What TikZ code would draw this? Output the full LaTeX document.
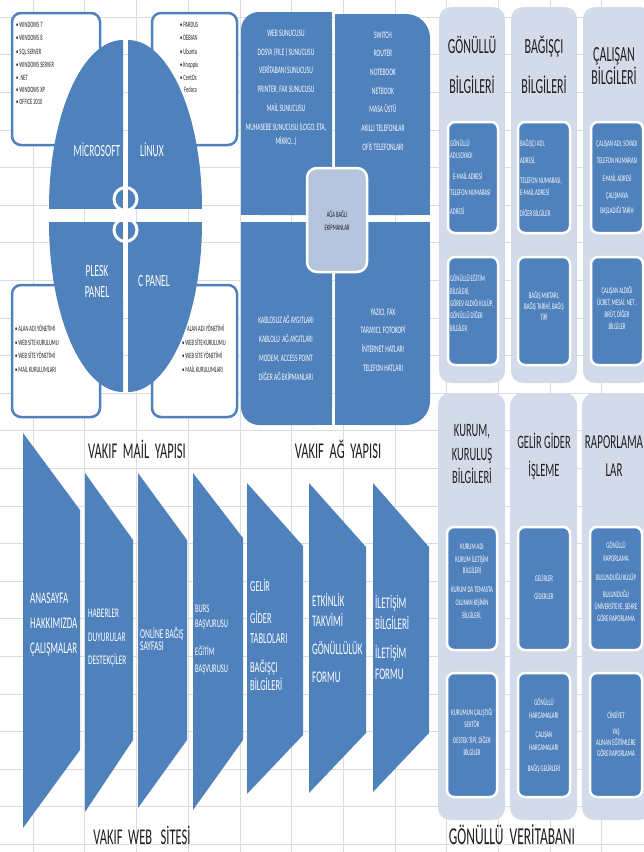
\documentclass[tikz,border=0pt]{standalone}
\usepackage{fontspec}
\setmainfont{Carlito}
\definecolor{blu}{HTML}{4F81BD}
\definecolor{lite}{HTML}{D3DBEA}
\definecolor{midb}{HTML}{B7C4DE}
\definecolor{gridc}{HTML}{DCDCDC}
\definecolor{ink}{HTML}{1F1F1F}
\newcommand\fz[2]{\fontsize{#1}{#2}\selectfont}
\tikzset{
 tx/.style={yscale=1.8, inner sep=0pt, align=center},
 wt/.style={tx, text=white},
 bt/.style={tx, text=ink},
 lt/.style={tx, text=ink, anchor=west, font=\fz{4.5}{5}},
 listbox/.style={fill=white, draw=blu, line width=2.5pt, rounded corners=9pt},
 inbox/.style={fill=blu, draw=white, line width=2.5pt, rounded corners=7pt},
 colbox/.style={fill=lite, rounded corners=12pt},
 chev/.style={fill=blu},
 ibt/.style={wt, font=\fz{4.8}{#1}},
}
\begin{document}
\begin{tikzpicture}[x=1pt,y=-1pt]
\useasboundingbox (0,0) rectangle (644,852);
\fill[white] (0,0) rectangle (644,852);
% spreadsheet grid
\foreach \k in {0,...,11} \draw[gridc, line width=0.6pt] ({33+51.7*\k},0) -- ({33+51.7*\k},852);
\foreach \k in {0,...,22} \draw[gridc, line width=0.6pt] (0,{17+37.6*\k}) -- (644,{17+37.6*\k});

% ---------- VAKIF MAIL YAPISI ----------
\draw[listbox] (12,13) rectangle (100,145);
\draw[listbox] (152,13) rectangle (237,145);
\draw[listbox] (12,285) rectangle (100,417);
\draw[listbox] (152,285) rectangle (237,417);

\begin{scope}\clip (40,30) rectangle (123,208); \fill[blu] (123,208) ellipse [x radius=74, y radius=168]; \end{scope}
\begin{scope}\clip (128,30) rectangle (215,208); \fill[blu] (128,208) ellipse [x radius=74, y radius=168]; \end{scope}
\begin{scope}\clip (40,222) rectangle (123,400); \fill[blu] (123,222) ellipse [x radius=74, y radius=170]; \end{scope}
\begin{scope}\clip (128,222) rectangle (215,400); \fill[blu] (128,222) ellipse [x radius=74, y radius=170]; \end{scope}
\draw[white, line width=3pt] (125.5,199) circle[radius=11.5];
\draw[white, line width=3pt] (125.5,230) circle[radius=11.5];
\fill[white] (123,150) rectangle (128,300);

\node[wt, font=\fz{9.5}{11.7}] (lms) at (97,150) {MİCROSOFT};
\node[wt, font=\fz{9.5}{11.7}] (llx) at (152,150) {LİNUX};
\node[wt, font=\fz{9.5}{11.7}] (lpl) at (97,281) {PLESK\\PANEL};
\node[wt, font=\fz{9.5}{11.7}] (lcp) at (154,281) {C PANEL};

\node[lt] (m1) at (16,25) {• WINDOWS 7};
\node[lt] (m2) at (16,38) {• WINDOWS 8};
\node[lt] (m3) at (16,52) {• SQL SERVER};
\node[lt] (m4) at (16,65) {• WINDOWS SERVER};
\node[lt] (m5) at (16,78) {• .NET};
\node[lt] (m6) at (16,90) {• WINDOWS XP};
\node[lt] (m7) at (16,102) {• OFFICE 2010};
\node[lt] (x1) at (180,25) {• PARDUS};
\node[lt] (x2) at (180,38) {• DEBIAN};
\node[lt] (x3) at (180,52) {• Ubuntu};
\node[lt] (x4) at (180,65) {• Knoppix};
\node[lt] (x5) at (180,78) {• CentOs};
\node[lt] (x6) at (184,90) {Fedora};
\node[lt] (p1) at (15,328) {• ALAN ADI YÖNETİMİ};
\node[lt] (p2) at (15,342) {• WEB SİTE KURULUMU};
\node[lt] (p3) at (15,355) {• WEB SİTE YÖNETİMİ};
\node[lt] (p4) at (15,369) {• MAİL KURULUMLARI};
\node[lt] (c1) at (187,328) {ALAN ADI YÖNETİMİ};
\node[lt] (c2) at (182,342) {• WEB SİTE KURULUMU};
\node[lt] (c3) at (182,355) {• WEB SİTE YÖNETİMİ};
\node[lt] (c4) at (182,369) {• MAİL KURULUMLARI};

% ---------- VAKIF AG YAPISI ----------
\fill[blu, rounded corners=18pt] (241,12) rectangle (332,215);
\fill[blu] (270,12) rectangle (332,215); \fill[blu] (241,60) rectangle (332,215);
\fill[blu, rounded corners=24pt] (335,14) rectangle (430,215);
\fill[blu] (335,14) rectangle (400,215); \fill[blu] (335,60) rectangle (430,215);
\fill[blu, rounded corners=18pt] (241,222) rectangle (332,425);
\fill[blu] (241,222) rectangle (332,380); \fill[blu] (270,222) rectangle (332,425);
\fill[blu, rounded corners=24pt] (335,222) rectangle (430,425);
\fill[blu] (335,222) rectangle (430,380); \fill[blu] (335,222) rectangle (400,425);
\node[fill=midb, draw=white, line width=2.5pt, rounded corners=10pt, minimum width=60pt, minimum height=104pt, inner sep=0pt] (hub) at (337,220) {};
\node[bt, font=\fz{4.6}{7.2}] (hubt) at (337,221) {AĞA BAĞLI\\EKİPMANLAR};

\node[wt, font=\fz{5.5}{10.4}] (ntl) at (286,88) {WEB SUNUCUSU\\DOSYA (FILE ) SUNUCUSU\\VERİTABANI SUNUCUSU\\PRINTER, FAX SUNUCUSU\\MAİL SUNUCUSU\\MUHASEBE SUNUCUSU (LOGO, ETA,\\[-2.4pt]MİKRO…)};
\node[wt, font=\fz{5.5}{10.4}] (ntr) at (383,91) {SWITCH\\ROUTER\\NOTEBOOK\\NETBOOK\\MASA ÜSTÜ\\AKILLI TELEFONLAR\\OFİS TELEFONLARI};
\node[wt, font=\fz{5.5}{10.4}] (nbl) at (286,348) {KABLOSUZ AĞ AYGITLARI\\KABLOLU\ \ AĞ AYGITLARI\\MODEM, ACCESS POINT\\DİĞER AĞ EKİPMANLARI};
\node[wt, font=\fz{5.5}{10.4}] (nbr) at (383,340) {YAZICI, FAX\\TARAYICI, FOTOKOPİ\\İNTERNET HATLARI\\TELEFON HATLARI};

% ---------- GONULLU VERITABANI ----------
\fill[colbox] (439,7) rectangle (505,383);
\fill[colbox] (511,7) rectangle (577,383);
\fill[colbox] (583,7) rectangle (652,383);
\fill[colbox] (438,393) rectangle (505,820);
\fill[colbox] (510,393) rectangle (577,820);
\fill[colbox] (582,393) rectangle (652,820);

\draw[inbox] (448,122) rectangle (498,233);
\draw[inbox] (518,122) rectangle (570,233);
\draw[inbox] (591,122) rectangle (643,233);
\draw[inbox] (448,257) rectangle (498,365);
\draw[inbox] (518,257) rectangle (570,365);
\draw[inbox] (591,257) rectangle (643,365);
\draw[inbox] (447,527) rectangle (497,650);
\draw[inbox] (518,527) rectangle (570,650);
\draw[inbox] (590,527) rectangle (642,650);
\draw[inbox] (447,673) rectangle (497,797);
\draw[inbox] (518,673) rectangle (570,797);
\draw[inbox] (590,673) rectangle (642,797);

\node[bt, font=\fz{12}{22}] (h1) at (472,65) {GÖNÜLLÜ\\BİLGİLERİ};
\node[bt, font=\fz{12}{22}] (h2) at (544,65) {BAĞIŞÇI\\BİLGİLERİ};
\node[bt, font=\fz{12}{12.5}] (h3) at (614,66) {ÇALIŞAN\\BİLGİLERİ};
\node[bt, font=\fz{10.5}{13}] (h4) at (472,454) {KURUM,\\KURULUŞ\\BİLGİLERİ};
\node[bt, font=\fz{10.5}{15.5}] (h5) at (544,456) {GELİR GİDER\\İŞLEME};
\node[bt, font=\fz{11}{15.5}] (h6) at (614,456) {RAPORLAMA\\LAR};

\node[ibt=6.7, align=left, anchor=west] (t1) at (450,177) {GÖNÜLLÜ\\ADI,SOYADI\\[5pt]\hspace{3pt}E-MAİL ADRESİ\\[2pt]TELEFON NUMARASI\\[4pt]ADRESİ};
\node[ibt=7.2, align=left, anchor=west] (t2) at (520,178) {BAĞIŞÇI ADI,\\[2.2pt]ADRESİ,\\[3.9pt]TELEFON NUMARASI,\\E-MAİL ADRESİ\\[4.4pt]DİĞER BİLGİLER};
\node[ibt=9.7] (t3) at (617,178) {ÇALIŞAN ADI, SOYADI\\TELEFON NUMARASI\\E-MAİL ADRESİ\\ÇALIŞMAYA\\[-1.5pt]BAŞLADIĞI TARİH};
\node[ibt=6.9, align=left, anchor=west] (t4) at (450,303) {GÖNÜLLÜ EĞİTİM\\BİLGİLERİ,\\GÖREV ALDIĞI KULÜP,\\GÖNÜLLÜ DİĞER\\BİLGİLER};
\node[ibt=6.1] (t5) at (544,306) {BAĞIŞ MIKTARI,\\BAĞIŞ TARİHİ, BAĞIŞ\\TİPİ};
\node[ibt=6.7] (t6) at (617,308) {ÇALIŞAN ALDIĞI\\ÜCRET, MESAİ, NET ,\\BRÜT, DİĞER\\BİLGİLER};
\node[ibt=7.2] (t7) at (472,582) {KURUM ADI\\KURUM İLETİŞİM\\[-1pt]BİLGİLERİ\\[3.3pt]KURUM DA TEMASTA\\OLUNAN KİŞİNİN\\BİLGİLERİ,};
\node[ibt=10] (t8) at (544,587) {GELİRLER\\GİDERLER};
\node[ibt=6.9] (t9) at (616,582) {GÖNÜLLÜ\\RAPORLAMA\\[3.6pt]BULUNDUĞU KULÜP\\[2.5pt]BULUNDUĞU\\ÜNİVERSİTEYE, ŞEHRE\\GÖRE RAPORLAMA};
\node[ibt=6.7] (t10) at (472,732) {KURUMUN ÇALIŞTIĞI\\SEKTÖR\\[2.2pt]DESTEK TİPİ, DİĞER\\BİLGİLER};
\node[ibt=6.9] (t11) at (544,736) {GÖNÜLLÜ\\HARCAMALARI\\[4pt]ÇALIŞAN\\HARCAMALARI\\[5pt]BAĞIŞ GELİRLERİ};
\node[ibt=6.1] (t12) at (616,734) {CİNSİYET\\[3.3pt]YAŞ\\ALINAN EĞİTİMLERE\\GÖRE RAPORLAMA};

% ---------- VAKIF WEB SITESI ----------
\fill[chev] (23,433) -- (80,510) -- (80,750) -- (23,828) -- cycle;
\fill[chev] (85,473) -- (133,540) -- (133,740) -- (85,812) -- cycle;
\fill[chev] (138,473) -- (187,540) -- (187,740) -- (138,808) -- cycle;
\fill[chev] (193,473) -- (243,538) -- (243,740) -- (193,810) -- cycle;
\fill[chev] (247,483) -- (303,546) -- (303,735) -- (247,794) -- cycle;
\fill[chev] (309,483) -- (366,547) -- (366,733) -- (309,793) -- cycle;
\fill[chev] (373,483) -- (429,547) -- (429,733) -- (373,792) -- cycle;

\node[wt, font=\fz{9}{13.9}, align=left, anchor=west] (e1) at (30,625) {ANASAYFA\\HAKKIMIZDA\\ÇALIŞMALAR};
\node[wt, font=\fz{7.3}{13}, align=left, anchor=west] (e2) at (88,638) {HABERLER\\DUYURULAR\\DESTEKÇİLER};
\node[wt, font=\fz{7.5}{6.8}, align=left, anchor=west] (e3) at (140,639) {ONLİNE BAĞIŞ\\SAYFASI};
\node[wt, font=\fz{6.5}{8.3}, align=left, anchor=west] (e4) at (195,640) {BURS\\BAŞVURUSU\\[7.2pt]EĞİTİM\\[1.1pt]BAŞVURUSU};
\node[wt, font=\fz{8.5}{11.1}, align=left, anchor=west] (e5) at (250,635) {GELİR\\[6.7pt]GİDER\\TABLOLARI\\[5pt]BAĞIŞÇI\\[-1.1pt]BİLGİLERİ};
\node[wt, font=\fz{9}{11.1}, align=left, anchor=west] (e6) at (312,638) {ETKİNLİK\\TAKVİMİ\\[4.4pt]GÖNÜLLÜLÜK\\[5pt]FORMU};
\node[wt, font=\fz{9}{11.7}, align=left, anchor=west] (e7) at (375,637) {İLETİŞİM\\BİLGİLERİ\\[4.4pt]İLETİŞİM\\FORMU};

% ---------- captions ----------
\node[bt, font=\fz{12.5}{14}] (lab1) at (137,449) {VAKIF\ \ MAİL\ \ YAPISI};
\node[bt, font=\fz{12.5}{14}] (lab2) at (338,449) {VAKIF\ \ AĞ\ \ YAPISI};
\node[bt, font=\fz{12.5}{14}] (lab3) at (142,835) {VAKIF\ \ WEB\ \ \ SİTESİ};
\node[bt, font=\fz{13.5}{14}] (lab4) at (512,835) {GÖNÜLLÜ\ \ VERİTABANI};
\end{tikzpicture}
\end{document}
